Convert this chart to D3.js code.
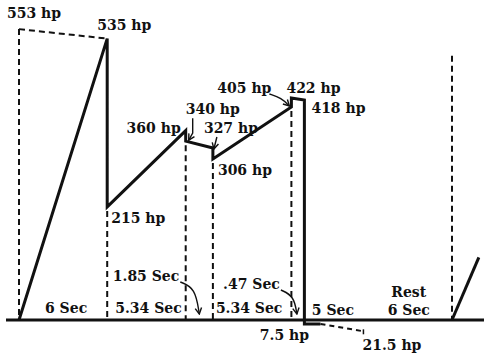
<!DOCTYPE html>
<html>
<head>
<meta charset="utf-8">
<script src="https://cdn.jsdelivr.net/npm/d3@7"></script>
<style>
  html, body { margin: 0; padding: 0; background: #fff; }
  svg { display: block; }
  text { font-family: "DejaVu Serif", serif; font-weight: bold; font-size: 14px; fill: #111; }
</style>
</head>
<body>
<svg id="chart" width="484" height="353"></svg>
<script>
// Duty cycle phases, in seconds
const phaseSeconds = [6, 5.34, 1.85, 5.34, 0.47, 5, 6];
const phaseNames   = ["", "", "", "", "", "", "Rest"];

// Motor output along one cycle: time from start (s) and horsepower
const powerTime = [0, 6, 6, 11.34, 11.34, 13.19, 13.19, 18.53, 18.53, 19.0, 19.0, 20.2];
const powerHp   = [0, 535, 215, 360, 340, 327, 306, 405, 422, 418, -7.5, -7.5];

// Regenerative braking tail (dashed)
const regenTime = [20.2, 23.4];
const regenHp   = [-7.5, -21.5];

// Peak demand envelope during acceleration (dashed)
const envelopeTime = [0, 6];
const envelopeHp   = [553, 535];

// Start of the following cycle
const nextTime = [30, 32];
const nextHp   = [0, 119];

// Dashed guide lines: time and the output they rise to
const guideTime  = [0, 6, 11.34, 13.19, 18.53, 30];
const guideTopHp = [553, 215, 340, 306, 405, 510];

// Labelled output values
const hpLabelTime  = [0, 6, 6, 11.34, 11.34, 13.19, 13.19, 18.53, 18.53, 19.0, 19.0, 23.4];
const hpLabelValue = [553, 535, 215, 360, 340, 327, 306, 405, 422, 418, -7.5, -21.5];

const svg = d3.select("#chart");
const ink = "#111";

// Phase boundaries from cumulative durations
const bounds = [0];
phaseSeconds.forEach(d => bounds.push(+(bounds[bounds.length - 1] + d).toFixed(2)));

// Horizontal scale: seconds, with the brief .47 s interval widened for legibility
const x0 = 19, xEnd = 452, secPx = 14.7, briefWidth = 13;
const xBrief = x0 + bounds[4] * secPx;
const x = d3.scaleLinear()
  .domain([0, bounds[4], bounds[5], bounds[7]])
  .range([x0, xBrief, xBrief + briefWidth, xEnd]);

// Vertical scale: horsepower
const y = d3.scaleLinear().domain([0, 600]).range([320, 320 - 600 * 0.526]);

const line = d3.line().x(d => x(d[0])).y(d => y(d[1]));
const pairs = (ts, vs) => ts.map((t, i) => [t, vs[i]]);

// Arrowhead
svg.append("defs").append("marker")
  .attr("id", "head")
  .attr("viewBox", "-7 -5 8 10")
  .attr("refX", 0).attr("refY", 0)
  .attr("markerWidth", 8).attr("markerHeight", 10)
  .attr("markerUnits", "userSpaceOnUse")
  .attr("orient", "auto")
  .append("path")
  .attr("d", "M-6,-3.2 L0,0 L-6,3.2")
  .attr("fill", "none").attr("stroke", ink).attr("stroke-width", 1.4);

// Dashed guides
const dash = "6,4";
svg.append("g").selectAll("line")
  .data(guideTime.map((t, i) => [t, guideTopHp[i]]))
  .join("line")
  .attr("x1", d => x(d[0])).attr("x2", d => x(d[0]))
  .attr("y1", d => y(d[1]) + (d[0] === 0 ? 0 : 4)).attr("y2", y(0))
  .attr("stroke", ink).attr("stroke-width", 2).attr("stroke-dasharray", dash);

svg.append("path")
  .attr("d", line(pairs(envelopeTime, envelopeHp)))
  .attr("fill", "none").attr("stroke", ink).attr("stroke-width", 2).attr("stroke-dasharray", dash);

svg.append("path")
  .attr("d", line(pairs(regenTime, regenHp)))
  .attr("fill", "none").attr("stroke", ink).attr("stroke-width", 2).attr("stroke-dasharray", "5,4");
// end tick of the braking tail
const rEnd = [x(regenTime[1]), y(regenHp[1])];
svg.append("line")
  .attr("x1", rEnd[0]).attr("x2", rEnd[0]).attr("y1", rEnd[1] - 2).attr("y2", rEnd[1] + 3)
  .attr("stroke", ink).attr("stroke-width", 1.5);

// Time axis
svg.append("line")
  .attr("x1", 6).attr("x2", 484).attr("y1", y(0)).attr("y2", y(0))
  .attr("stroke", ink).attr("stroke-width", 3);

// Power curve
svg.append("path")
  .attr("d", line(pairs(powerTime, powerHp)))
  .attr("fill", "none").attr("stroke", ink).attr("stroke-width", 3)
  .attr("stroke-linejoin", "miter");

svg.append("path")
  .attr("d", line(pairs(nextTime, nextHp)))
  .attr("fill", "none").attr("stroke", ink).attr("stroke-width", 3);

// Output labels: [dx, dy, anchor] relative to each labelled point
const hpPlace = [
  [-12, -11, "start"], [-10, -9, "start"], [4, 16, "start"], [-5, 2, "end"],
  [0, -27, "start"], [-9, -15, "start"], [5, 16, "start"], [-20, -14, "end"],
  [-5, -5, "start"], [7, 13, "start"], [-20, 16, "middle"], [-1, 19, "start"]
];
svg.append("g").selectAll("text")
  .data(hpLabelValue.map((v, i) => ({ t: hpLabelTime[i], v, p: hpPlace[i] })))
  .join("text")
  .attr("x", d => x(d.t) + d.p[0])
  .attr("y", d => y(d.v) + d.p[1])
  .attr("text-anchor", d => d.p[2])
  .text(d => `${Math.abs(d.v)} hp`);

// Pointer arrows to labelled points
const arrow = (pts, curved) => svg.append("path")
  .attr("d", (curved ? d3.line().curve(d3.curveBasis) : d3.line())(pts))
  .attr("fill", "none").attr("stroke", ink).attr("stroke-width", 1.4)
  .attr("marker-end", "url(#head)");

const p340 = [x(11.34), y(340)];
arrow([[p340[0] + 7, p340[1] - 23], [p340[0] + 7, p340[1] - 8], [p340[0] + 3, p340[1] - 1]], false);
const p327 = [x(13.19), y(327)];
arrow([[p327[0] + 4, p327[1] - 11], [p327[0] + 1, p327[1] + 1]], false);
const p405 = [x(18.53), y(405)];
arrow([[p405[0] - 22, p405[1] - 13], [p405[0] - 10, p405[1] - 9], [p405[0] - 2, p405[1] - 1]], true);

// Phase duration labels
const fmtSec = s => (s < 1 ? String(s).replace(/^0/, "") : String(s)) + " Sec";
const mids = phaseSeconds.map((s, i) => (x(bounds[i]) + x(bounds[i + 1])) / 2);
const base = y(0);
const onAxis = [0, 1, 3, 5, 6];
const axisDx = { 0: 3, 1: 2, 3: -3, 5: -5, 6: -3 };
svg.append("g").selectAll("text")
  .data(onAxis)
  .join("text")
  .attr("x", i => mids[i] + axisDx[i])
  .attr("y", i => base - (i >= 5 ? 5 : 7))
  .attr("text-anchor", "middle")
  .text(i => fmtSec(phaseSeconds[i]));
svg.append("text")
  .attr("x", mids[6] + axisDx[6]).attr("y", base - 23)
  .attr("text-anchor", "middle")
  .text(phaseNames[6]);

// Short intervals labelled above the axis with pointers
[[2, -2, -38], [4, -3, -30]].forEach(([i, dxEnd, dyText]) => {
  const m = mids[i];
  const tx = m - 19 + (i === 4 ? 2 : 0);
  svg.append("text")
    .attr("x", tx - 1).attr("y", base + dyText - 1)
    .attr("text-anchor", "end")
    .text(fmtSec(phaseSeconds[i]));
  arrow([[tx, base + dyText], [m - 4, base + dyText + 6], [m + dxEnd + 2, base - 6]], true);
});
</script>
</body>
</html>
